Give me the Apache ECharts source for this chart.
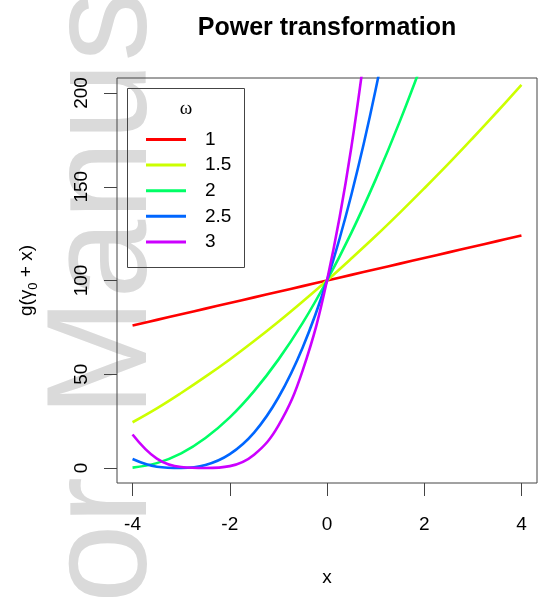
<!DOCTYPE html>
<html>
<head>
<meta charset="utf-8">
<script src="https://cdn.jsdelivr.net/npm/echarts@6/dist/echarts.min.js"></script>
<style>
  html, body { margin: 0; padding: 0; background: #fff; }
  #chart { width: 542px; height: 597px; }
</style>
</head>
<body>
<div id="chart"></div>
<script>
// x positions (shared) and the curves
const xValues = [-4, -3.5, -3, -2.5, -2, -1.5, -1, -0.5, 0, 0.5, 1, 1.5, 2, 2.5, 3, 3.5, 4]
const omega1 = [76, 79, 82, 85, 88, 91, 94, 97, 100, 103, 106, 109, 112, 115, 118, 121, 124]
const omega15 = [24.4, 31.8, 40.0, 48.7, 57.9, 67.7, 78.0, 88.8, 100, 111.7, 123.7, 136.2, 149.1, 162.3, 176.0, 190.0, 204.3]
const omega2 = [0.2, 2.6, 7.8, 16, 27.0, 41.0, 57.8, 77.4, 100, 125.4, 153.8, 185.0, 219.0]
const omega25 = [4.8, 0.7, 0.0, 1.6, 7.4, 18.9, 37.6, 64.3, 100, 145.6, 201.7, 269.2]
const omega3 = [17.9, 5.0, 0.5, 0.0, 1.0, 7.1, 22.6, 52.1, 100, 170.9, 269.1]

const seriesNames = ['1', '1.5', '2', '2.5', '3']
const seriesValues = [omega1, omega15, omega2, omega25, omega3]
const colors = ['#FF0000', '#CCFF00', '#00FF66', '#0066FF', '#CC00FF']

const xTicks = [-4, -2, 0, 2, 4]
const yTicks = [0, 50, 100, 150, 200]

const font = 'Liberation Sans, Arial, Helvetica, sans-serif'
const axisColor = '#444'

const chart = echarts.init( document.getElementById( 'chart' ) )

chart.setOption( {
  animation : false,
  color : colors,
  graphic : [
    // faint watermark behind the plot
    {
      type : 'text', x : 178, y : 417, rotation : Math.PI / 2, z : -10,
      style : { text : 'Manuscript', font : '142px ' + font, fill : '#dadada', textAlign : 'left', textVerticalAlign : 'bottom' }
    },
    {
      type : 'text', x : 178, y : 477, rotation : Math.PI / 2, z : -10,
      style : { text : 'Author', font : '142px ' + font, fill : '#dadada', textAlign : 'right', textVerticalAlign : 'bottom' }
    },
    {
      type : 'text', x : 327, y : 28,
      style : { text : 'Power transformation', font : 'bold 25px ' + font, fill : '#000', textAlign : 'center', textVerticalAlign : 'middle' }
    },
    {
      type : 'rect', shape : { x : 127.5, y : 88.5, width : 117, height : 179 },
      style : { fill : null, stroke : axisColor, lineWidth : 1 }
    },
    {
      type : 'text', x : 186, y : 109,
      style : { text : 'ω', font : '19px Liberation Serif, serif', fill : '#000', textAlign : 'center', textVerticalAlign : 'middle' }
    }
  ],
  grid : {
    left : 117,
    right : 5,
    top : 78,
    bottom : 114,
    show : true,
    borderColor : axisColor,
    borderWidth : 1,
    backgroundColor : 'transparent'
  },
  legend : {
    orient : 'vertical',
    left : 141,
    top : 125,
    itemWidth : 40,
    itemHeight : 3,
    itemGap : 6.6,
    icon : 'rect',
    data : seriesNames,
    textStyle : {
      fontFamily : font,
      fontSize : 19,
      lineHeight : 19,
      color : '#000',
      padding : [0, 0, 0, 14]
    }
  },
  xAxis : {
    type : 'value',
    min : -4.32,
    max : 4.32,
    axisLine : { show : false, onZero : false },
    splitLine : { show : false },
    axisTick : {
      show : true,
      length : 13,
      customValues : xTicks,
      lineStyle : { color : axisColor }
    },
    axisLabel : {
      customValues : xTicks,
      fontFamily : font,
      fontSize : 19,
      color : '#000',
      margin : 32
    },
    name : 'x',
    nameLocation : 'middle',
    nameGap : 85,
    nameTextStyle : { fontFamily : font, fontSize : 19, color : '#000', verticalAlign : 'top' }
  },
  yAxis : {
    type : 'value',
    min : -8,
    max : 208,
    axisLine : { show : false, onZero : false },
    splitLine : { show : false },
    axisTick : {
      show : true,
      length : 13,
      customValues : yTicks,
      lineStyle : { color : axisColor }
    },
    axisLabel : {
      customValues : yTicks,
      rotate : 90,
      fontFamily : font,
      fontSize : 19,
      color : '#000',
      margin : 26
    },
    name : '{a|g(γ}{s|0}{a| + x)}',
    nameLocation : 'middle',
    nameRotate : 90,
    nameGap : 77,
    nameTextStyle : {
      rich : {
        a : { fontFamily : font, fontSize : 19, color : '#000', lineHeight : 26, verticalAlign : 'middle' },
        s : { fontFamily : font, fontSize : 13, color : '#000', lineHeight : 26, verticalAlign : 'bottom' }
      }
    }
  },
  series : seriesNames.map( ( name, i ) => ( {
    name,
    type : 'line',
    smooth : 0.4,
    symbol : 'none',
    clip : true,
    lineStyle : { width : 2.6, color : colors[i] },
    itemStyle : { color : colors[i] },
    data : seriesValues[i].map( ( v, j ) => [xValues[j], v] )
  } ) )
} )
</script>
</body>
</html>
